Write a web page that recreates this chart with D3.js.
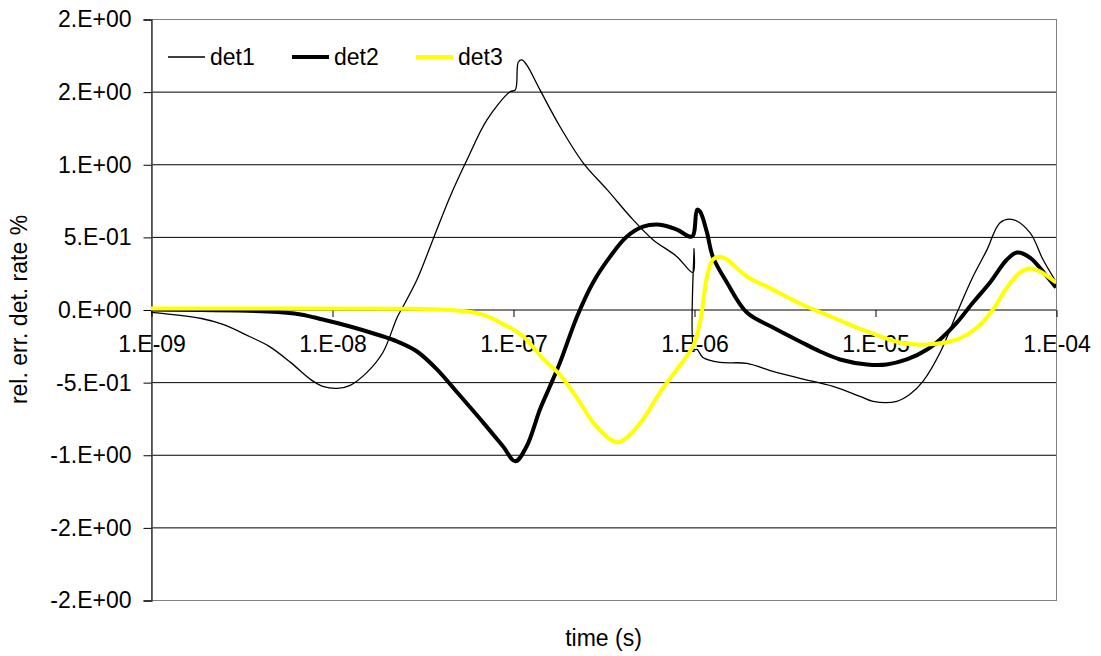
<!DOCTYPE html>
<html>
<head>
<meta charset="utf-8">
<script src="https://cdn.jsdelivr.net/npm/d3@7"></script>
<style>
  body { margin: 0; background: #fff; }
  svg text { font-family: "Liberation Sans", Arial, sans-serif; font-size: 23px; fill: #000; }
</style>
</head>
<body>
<script>
// series names, in legend order
const seriesNames = ["det1", "det2", "det3"];

// [time (s), rel. err. det. rate %]
const det1 = [
  [1.0e-9, -0.02], [1.9e-9, -0.062], [2.5e-9, -0.103], [3.5e-9, -0.186], [4.5e-9, -0.254],
  [5.9e-9, -0.364], [7.6e-9, -0.481], [8.9e-9, -0.529], [1.07e-8, -0.543], [1.26e-8, -0.522],
  [1.56e-8, -0.433], [1.91e-8, -0.296], [2.29e-8, -0.055], [2.47e-8, 0.021], [2.95e-8, 0.206],
  [3.61e-8, 0.481], [4.49e-8, 0.777], [5.57e-8, 1.031], [7.18e-8, 1.306], [9.6e-8, 1.498],
  [1.03e-7, 1.512], [1.07e-7, 1.704], [1.12e-7, 1.718], [1.19e-7, 1.684], [1.41e-7, 1.512],
  [1.82e-7, 1.258], [2.44e-7, 1.010], [3.31e-7, 0.825], [4.6e-7, 0.619], [5.93e-7, 0.481],
  [8.05e-7, 0.364], [9.87e-7, 0.254], [1.0e-6, 0.419], [1.001e-6, -0.275], [1.04e-6, -0.275],
  [1.12e-6, -0.33], [1.39e-6, -0.364], [1.96e-6, -0.371], [2.73e-6, -0.426], [3.85e-6, -0.474],
  [5.86e-6, -0.529], [8.26e-6, -0.598], [9.75e-6, -0.632], [1.32e-5, -0.632], [1.56e-5, -0.584],
  [1.84e-5, -0.495], [2.29e-5, -0.296], [2.84e-5, -0.021], [3.48e-5, 0.227], [4.16e-5, 0.412],
  [4.91e-5, 0.598], [5.78e-5, 0.619], [7.18e-5, 0.529], [8.47e-5, 0.344], [1.0e-4, 0.192]
];

const det2 = [
  [1.0e-9, 0.0], [4.4e-9, -0.014], [6.7e-9, -0.034], [8.9e-9, -0.069], [1.26e-8, -0.117],
  [1.77e-8, -0.172], [2.29e-8, -0.22], [2.95e-8, -0.289], [3.8e-8, -0.412], [4.91e-8, -0.570],
  [6.83e-8, -0.777], [8.8e-8, -0.942], [1.03e-7, -1.045], [1.19e-7, -0.942], [1.41e-7, -0.687],
  [1.6e-7, -0.529], [1.82e-7, -0.364], [2.26e-7, -0.048], [2.77e-7, 0.186], [3.44e-7, 0.364],
  [4.26e-7, 0.502], [5.23e-7, 0.570], [6.49e-7, 0.584], [8.05e-7, 0.550], [9.75e-7, 0.502],
  [1.04e-6, 0.687], [1.08e-6, 0.674], [1.18e-6, 0.529], [1.27e-6, 0.364], [1.52e-6, 0.186],
  [1.96e-6, -0.021], [2.73e-6, -0.124], [3.85e-6, -0.220], [4.97e-6, -0.289], [6.41e-6, -0.344],
  [9.03e-6, -0.378], [1.16e-5, -0.378], [1.5e-5, -0.344], [1.94e-5, -0.275], [2.29e-5, -0.206],
  [2.84e-5, -0.089], [3.48e-5, 0.048], [4.32e-5, 0.186], [5.36e-5, 0.344], [6.09e-5, 0.392],
  [7.18e-5, 0.357], [8.91e-5, 0.227], [1.0e-4, 0.151]
];

const det3 = [
  [1.0e-9, 0.007], [6.7e-9, 0.007], [2.38e-8, 0.005], [3.95e-8, 0.0], [5.57e-8, -0.014],
  [7.0e-8, -0.041], [8.47e-8, -0.089], [1.0e-7, -0.137], [1.14e-7, -0.186], [1.47e-7, -0.34],
  [1.82e-7, -0.45], [2.26e-7, -0.610], [2.77e-7, -0.777], [3.44e-7, -0.893], [3.8e-7, -0.914],
  [4.26e-7, -0.880], [5.23e-7, -0.756], [6.49e-7, -0.570], [8.05e-7, -0.412], [9.87e-7, -0.254],
  [1.08e-6, -0.089], [1.18e-6, 0.227], [1.27e-6, 0.344], [1.39e-6, 0.364], [1.52e-6, 0.344],
  [1.96e-6, 0.227], [2.73e-6, 0.137], [3.85e-6, 0.041], [5.86e-6, -0.055], [9.03e-6, -0.151],
  [1.37e-5, -0.227], [1.94e-5, -0.241], [2.84e-5, -0.206], [3.66e-5, -0.124], [4.49e-5, 0.0],
  [5.36e-5, 0.151], [6.32e-5, 0.254], [7.18e-5, 0.282], [8.17e-5, 0.261], [1.0e-4, 0.186]
];

// axis ticks
const xTicks = [1e-9, 1e-8, 1e-7, 1e-6, 1e-5, 1e-4];
const yTicks = [2, 1.5, 1, 0.5, 0, -0.5, -1, -1.5, -2];

const W = 1101, H = 656;
const plot = { left: 151, right: 1056, top: 19, bottom: 600 };

const svg = d3.select("body").append("svg").attr("width", W).attr("height", H);

const x = d3.scaleLog().domain([1e-9, 1e-4]).range([plot.left, plot.right]);
const y = d3.scaleLinear().domain([-2, 2]).range([plot.bottom, plot.top]);

// Excel style "0.E+00" number format
function sciFmt(v) {
  if (v === 0) return "0.E+00";
  let e = Math.floor(Math.log10(Math.abs(v)) + 1e-9);
  let m = Math.round(Math.abs(v) / Math.pow(10, e));
  if (m >= 10) { m = 1; e += 1; }
  const sign = v < 0 ? "-" : "";
  const es = (e < 0 ? "-" : "+") + String(Math.abs(e)).padStart(2, "0");
  return sign + m + ".E" + es;
}

// gridlines
svg.append("g")
  .selectAll("line")
  .data(yTicks.filter(d => d !== 2 && d !== -2 && d !== 0))
  .join("line")
  .attr("x1", plot.left).attr("x2", plot.right)
  .attr("y1", d => y(d) + 0.5).attr("y2", d => y(d) + 0.5)
  .attr("stroke", "#000").attr("stroke-width", 1);

// plot border
svg.append("rect")
  .attr("x", plot.left + 0.5).attr("y", plot.top + 0.5)
  .attr("width", plot.right - plot.left).attr("height", plot.bottom - plot.top)
  .attr("fill", "none").attr("stroke", "#808080");

// y axis
const gy = svg.append("g")
  .attr("transform", `translate(${plot.left + 0.5},0.5)`)
  .call(d3.axisLeft(y).tickValues(yTicks).tickSize(8).tickPadding(12).tickFormat(sciFmt));
gy.select(".domain").attr("stroke", "#404040").attr("stroke-width", 1.5);
gy.selectAll(".tick line").attr("stroke", "#000");
gy.selectAll("text").attr("font-size", null).attr("font-family", null);

// x axis at y = 0
const gx = svg.append("g")
  .attr("transform", `translate(0.5,${y(0) + 0.5})`)
  .call(d3.axisBottom(x).tickValues(xTicks).tickSize(7).tickFormat(sciFmt));
gx.select(".domain").remove();
gx.selectAll(".tick line").attr("stroke", "#000");
gx.selectAll("text").attr("font-size", null).attr("font-family", null).attr("y", 42).attr("dy", 0);
svg.append("line")
  .attr("x1", plot.left).attr("x2", plot.right)
  .attr("y1", y(0) + 0.5).attr("y2", y(0) + 0.5)
  .attr("stroke", "#000");

// clip
svg.append("clipPath").attr("id", "clip")
  .append("rect")
  .attr("x", plot.left).attr("y", plot.top)
  .attr("width", plot.right - plot.left).attr("height", plot.bottom - plot.top);

const line = d3.line()
  .x(d => x(d[0]))
  .y(d => y(d[1]))
  .curve(d3.curveCatmullRom.alpha(0.5));

const series = [
  { name: seriesNames[0], data: det1, color: "#000", width: 1.3 },
  { name: seriesNames[1], data: det2, color: "#000", width: 4 },
  { name: seriesNames[2], data: det3, color: "#FFFF00", width: 4 }
];

svg.append("g").attr("clip-path", "url(#clip)")
  .selectAll("path")
  .data(series)
  .join("path")
  .attr("d", d => line(d.data))
  .attr("fill", "none")
  .attr("stroke", d => d.color)
  .attr("stroke-width", d => d.width)
  .attr("stroke-linejoin", "round");

// legend
const legend = svg.append("g")
  .selectAll("g")
  .data(series)
  .join("g")
  .attr("transform", (d, i) => `translate(${168 + i * 124},57)`);
legend.append("line")
  .attr("x1", 0).attr("x2", 37)
  .attr("stroke", d => d.color)
  .attr("stroke-width", d => d.width);
legend.append("text")
  .attr("x", 42).attr("y", 8)
  .text(d => d.name);

// axis titles
svg.append("text")
  .attr("x", (plot.left + plot.right) / 2).attr("y", 646)
  .attr("text-anchor", "middle")
  .text("time (s)");

svg.append("text")
  .attr("transform", `translate(27,${(plot.top + plot.bottom) / 2}) rotate(-90)`)
  .attr("text-anchor", "middle")
  .text("rel. err. det. rate %");
</script>
</body>
</html>
